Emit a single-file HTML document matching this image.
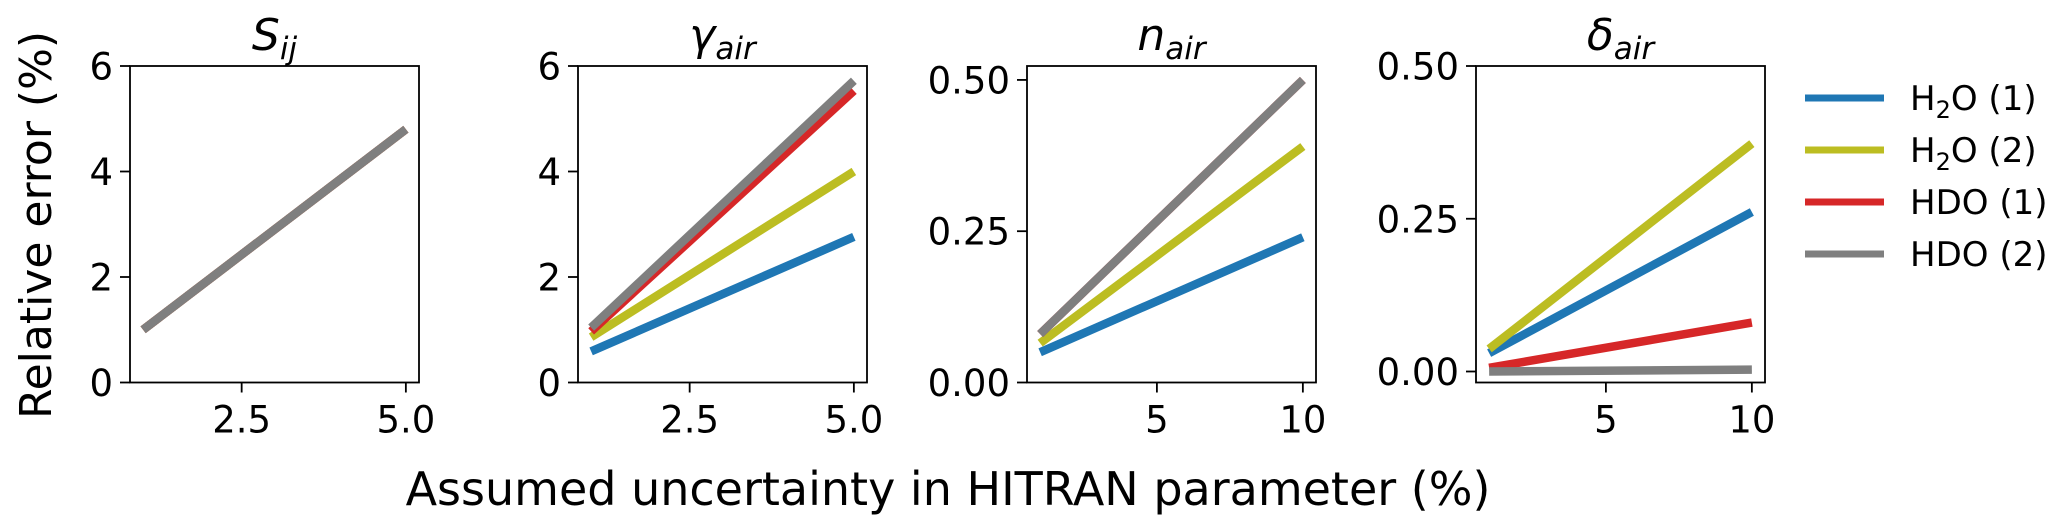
<!DOCTYPE html>
<html><head><meta charset="utf-8">
<style>
html,body{margin:0;padding:0;background:#fff;}
svg{display:block;font-family:"DejaVu Sans","Liberation Sans",sans-serif;}
</style></head>
<body>
<svg id="chart" width="2067" height="526" viewBox="0 0 2067 526" xmlns="http://www.w3.org/2000/svg">
<text x="0" y="0" font-size="44" text-anchor="middle" transform="translate(51,225) rotate(-90)">Relative error (%)</text>
<text x="948" y="505" font-size="46" text-anchor="middle">Assumed uncertainty in HITRAN parameter (%)</text>
<g id="legend"></g>
</svg>
<script>
const seriesNames = ["H2O (1)", "H2O (2)", "HDO (1)", "HDO (2)"];
const seriesColors = ["#1f77b4", "#bcbd22", "#d62728", "#7f7f7f"];
// panel 1: S_ij
const p1X = [1, 5];
const p1Vals = [[1.0, 4.8], [1.0, 4.8], [1.0, 4.8], [1.0, 4.8]];
const p1YTicks = [0, 2, 4, 6];
const p1XTicks = [2.5, 5.0];
const p1XTickLabels = ["2.5", "5.0"];
const p1YTickLabels = ["0", "2", "4", "6"];
// panel 2: gamma_air
const p2X = [1, 5];
const p2Vals = [[0.59, 2.76], [0.86, 4.0], [0.97, 5.53], [1.04, 5.72]];
const p2YTicks = [0, 2, 4, 6];
const p2XTicks = [2.5, 5.0];
const p2XTickLabels = ["2.5", "5.0"];
const p2YTickLabels = ["0", "2", "4", "6"];
// panel 3: n_air
const p3X = [1, 10];
const p3Vals = [[0.05, 0.24], [0.065, 0.39], [0.08, 0.50], [0.08, 0.50]];
const p3YTicks = [0, 0.25, 0.5];
const p3XTicks = [5, 10];
const p3XTickLabels = ["5", "10"];
const p3YTickLabels = ["0.00", "0.25", "0.50"];
// panel 4: delta_air
const p4X = [1, 10];
const p4Vals = [[0.03, 0.261], [0.037, 0.373], [0.006, 0.08], [0.0, 0.003]];
const p4YTicks = [0, 0.25, 0.5];
const p4XTicks = [5, 10];
const p4XTickLabels = ["5", "10"];
const p4YTickLabels = ["0.00", "0.25", "0.50"];

const NS = "http://www.w3.org/2000/svg";
const svg = document.getElementById("chart");
function mk(tag, attrs, parent) {
  const e = document.createElementNS(NS, tag);
  for (const k in attrs) e.setAttribute(k, attrs[k]);
  (parent || svg).appendChild(e);
  return e;
}
const TOP = 66, BOT = 382.5, W = 289;
const panels = [
  {key:"sij", left:130, xd:[0.8,5.2], yd:[0,6], x:p1X, v:p1Vals, yt:p1YTicks, ytl:p1YTickLabels, xt:p1XTicks, xtl:p1XTickLabels, t:"S", sub:"ij"},
  {key:"gamma-air", left:578, xd:[0.8,5.2], yd:[0,6], x:p2X, v:p2Vals, yt:p2YTicks, ytl:p2YTickLabels, xt:p2XTicks, xtl:p2XTickLabels, t:"γ", sub:"air"},
  {key:"n-air", left:1027, xd:[0.55,10.45], yd:[0,0.523], x:p3X, v:p3Vals, yt:p3YTicks, ytl:p3YTickLabels, xt:p3XTicks, xtl:p3XTickLabels, t:"n", sub:"air"},
  {key:"delta-air", left:1476, xd:[0.55,10.45], yd:[-0.018,0.5], x:p4X, v:p4Vals, yt:p4YTicks, ytl:p4YTickLabels, xt:p4XTicks, xtl:p4XTickLabels, t:"δ", sub:"air"}
];
panels.forEach(p => {
  const g = mk("g", {});
  
  
  const sx = v => p.left + (v - p.xd[0]) / (p.xd[1] - p.xd[0]) * W;
  const sy = v => BOT - (v - p.yd[0]) / (p.yd[1] - p.yd[0]) * (BOT - TOP);
  p.v.forEach((vals, i) => {
    let d = "";
    vals.forEach((v, j) => { d += (j ? "L" : "M") + sx(p.x[j]).toFixed(2) + "," + sy(v).toFixed(2); });
    const path = mk("path", {d:d, stroke:seriesColors[i], "stroke-width":8.5, fill:"none"}, g);
    
    
  });
  const fr = mk("rect", {x:p.left, y:TOP, width:W, height:BOT-TOP, fill:"none", stroke:"#000", "stroke-width":1.8}, g);
  
  
  p.yt.forEach((v, i) => {
    const y = sy(v);
    const tk = mk("line", {x1:p.left-10, x2:p.left, y1:y, y2:y, stroke:"#000", "stroke-width":1.8}, g);
    
    
    const tl = mk("text", {x:p.left-17, y:y+13.5, "font-size":37, "text-anchor":"end"}, g);
    tl.textContent = p.ytl[i];
    
    
  });
  p.xt.forEach((v, i) => {
    const x = sx(v);
    const tk = mk("line", {x1:x, x2:x, y1:BOT, y2:BOT+10, stroke:"#000", "stroke-width":1.8}, g);
    
    
    const tl = mk("text", {x:x, y:BOT+50, "font-size":37, "text-anchor":"middle"}, g);
    tl.textContent = p.xtl[i];
    
    
  });
  const tt = mk("text", {x:p.left + W/2, y:50, "font-size":44, "text-anchor":"middle", "font-style":"italic"}, g);
  
  
  const t1 = mk("tspan", {}, tt); t1.textContent = p.t;
  const t2 = mk("tspan", {"font-size":31, dy:9}, tt); t2.textContent = p.sub;
});
const lg = document.getElementById("legend");
const legendLabels = [["H","2","O (1)"],["H","2","O (2)"],["HDO (1)","",""],["HDO (2)","",""]];
seriesNames.forEach((n, i) => {
  const y = 98 + i * 52;
  const e = mk("g", {}, lg);
  
  
  mk("line", {x1:1805, x2:1884, y1:y, y2:y, stroke:seriesColors[i], "stroke-width":7}, e);
  const t = mk("text", {x:1910, y:y+12, "font-size":34}, e);
  const a = mk("tspan", {}, t); a.textContent = legendLabels[i][0];
  if (legendLabels[i][1]) {
    const b = mk("tspan", {"font-size":24, dy:8}, t); b.textContent = legendLabels[i][1];
    const c = mk("tspan", {dy:-8}, t); c.textContent = legendLabels[i][2];
  }
});
</script>
</body></html>
